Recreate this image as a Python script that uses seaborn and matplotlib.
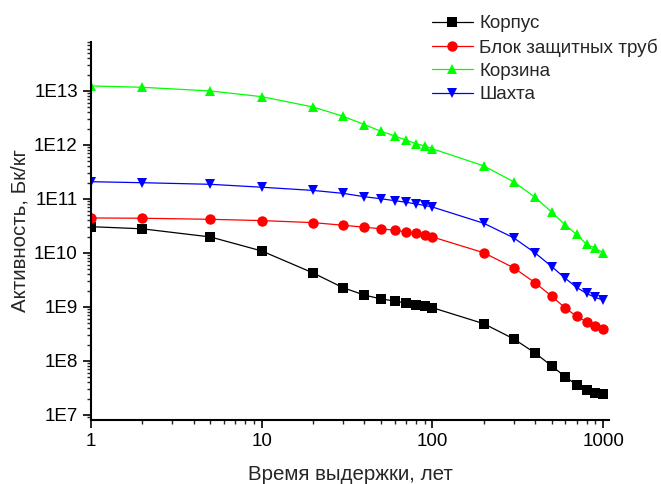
import numpy as np
import pandas as pd
import matplotlib
matplotlib.use("Agg")
import matplotlib.pyplot as plt
import matplotlib.ticker as mticker
import seaborn as sns

years = [1, 2, 5, 10, 20, 30, 40, 50, 60, 70, 80, 90, 100,
         200, 300, 400, 500, 600, 700, 800, 900, 1000]

korpus = [3.07e10, 2.8e10, 1.98e10, 1.09e10, 4.27e9, 2.27e9, 1.66e9, 1.41e9, 1.29e9,
          1.18e9, 1.1e9, 1.05e9, 9.7e8, 4.9e8, 2.56e8, 1.4e8, 8.1e7, 5.1e7, 3.6e7,
          2.9e7, 2.57e7, 2.4e7]
blok = [4.45e10, 4.4e10, 4.2e10, 3.98e10, 3.65e10, 3.26e10, 3.0e10, 2.8e10, 2.64e10,
        2.45e10, 2.3e10, 2.14e10, 1.98e10, 1.01e10, 5.3e9, 2.8e9, 1.58e9, 9.6e8,
        6.7e8, 5.3e8, 4.4e8, 3.9e8]
korzina = [1.24e13, 1.17e13, 1.0e13, 7.85e12, 5.05e12, 3.4e12, 2.38e12, 1.79e12,
           1.48e12, 1.23e12, 1.06e12, 9.6e11, 8.5e11, 4.1e11, 2.07e11, 1.07e11,
           5.7e10, 3.3e10, 2.2e10, 1.45e10, 1.23e10, 1.0e10]
shakhta = [2.09e11, 2.0e11, 1.87e11, 1.65e11, 1.44e11, 1.27e11, 1.1e11, 1.01e11,
           9.3e10, 8.7e10, 8.1e10, 7.6e10, 7.1e10, 3.55e10, 1.9e10, 1.0e10, 5.6e9,
           3.4e9, 2.3e9, 1.78e9, 1.5e9, 1.35e9]

names = ["Корпус", "Блок защитных труб", "Корзина", "Шахта"]
series = [korpus, blok, korzina, shakhta]
colors = ["#000000", "#ff0000", "#00ff00", "#0000ff"]
markers = ["s", "o", "^", "v"]
msizes = [6.5, 7.5, 7.5, 7.5]

x_label = "Время выдержки, лет"
y_label = "Активность, Бк/кг"
y_ticks = [1e7, 1e8, 1e9, 1e10, 1e11, 1e12, 1e13]
y_tick_labels = ["1E7", "1E8", "1E9", "1E10", "1E11", "1E12", "1E13"]
x_ticks = [1, 10, 100, 1000]
x_tick_labels = ["1", "10", "100", "1000"]

sns.set_style("ticks")
plt.rcParams["font.family"] = ["Liberation Sans", "DejaVu Sans"]

fig = plt.figure(figsize=(6.61, 4.84), dpi=100)
ax = fig.add_axes([91 / 661, 1 - 420 / 484, (609 - 91) / 661, (420 - 42) / 484])

for name, vals, c, m, ms in zip(names, series, colors, markers, msizes):
    df = pd.DataFrame({"x": years, "y": vals})
    sns.lineplot(data=df, x="x", y="y", ax=ax, color=c, marker=m, markersize=ms,
                 markeredgewidth=0, linewidth=0.9, label=name)

ax.set_xscale("log")
ax.set_yscale("log")
ax.set_xlim(1, 1083)
ax.set_ylim(8.07e6, 8.07e13)

ax.yaxis.set_major_locator(mticker.FixedLocator(y_ticks))
ax.yaxis.set_major_formatter(mticker.FixedFormatter(y_tick_labels))
ax.yaxis.set_minor_locator(mticker.LogLocator(base=10, subs=np.arange(2, 10), numticks=30))
ax.yaxis.set_minor_formatter(mticker.NullFormatter())
ax.xaxis.set_major_locator(mticker.FixedLocator(x_ticks))
ax.xaxis.set_major_formatter(mticker.FixedFormatter(x_tick_labels))
ax.xaxis.set_minor_locator(mticker.LogLocator(base=10, subs=np.arange(2, 10), numticks=30))
ax.xaxis.set_minor_formatter(mticker.NullFormatter())

ax.tick_params(axis="both", which="major", direction="out", length=6, width=1.2,
               labelsize=13.5, colors="black")
ax.tick_params(axis="both", which="minor", direction="out", length=3, width=1.0)

for s in ["top", "right"]:
    ax.spines[s].set_visible(False)
for s in ["left", "bottom"]:
    ax.spines[s].set_linewidth(1.5)
    ax.spines[s].set_color("black")

ax.set_xlabel(x_label, fontsize=14.8, labelpad=11)
ax.set_ylabel(y_label, fontsize=14.8, labelpad=3)

leg = ax.legend(loc="upper left", bbox_to_anchor=(432 / 661, 1 - 15 / 484),
                bbox_transform=fig.transFigure, frameon=False, fontsize=13.6,
                handlelength=2.15, handletextpad=0.35, labelspacing=0.32,
                borderpad=0, borderaxespad=0)

fig.savefig("out.png", dpi=100)
